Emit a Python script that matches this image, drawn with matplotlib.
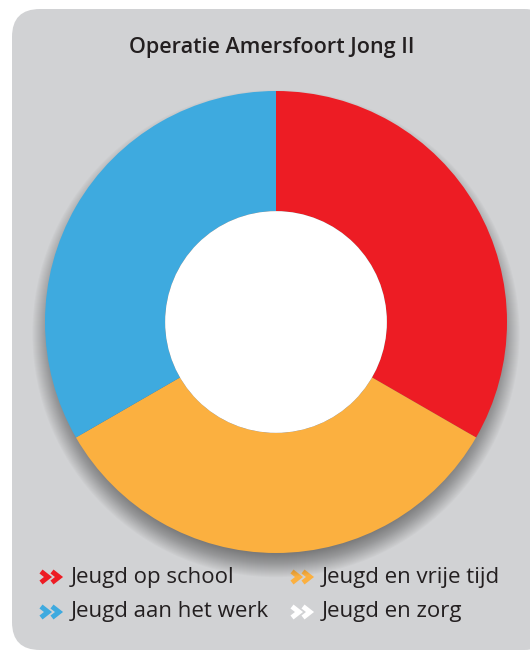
import matplotlib.pyplot as plt
from matplotlib.patches import FancyBboxPatch, Circle

title = "Operatie Amersfoort Jong II"
labels = ["Jeugd op school", "Jeugd en vrije tijd", "Jeugd aan het werk", "Jeugd en zorg"]
values = [1, 1, 1, 0]
colors = ["#ED1C24", "#FBB040", "#3EAADF", "#FFFFFF"]

W, H = 530, 653
fig = plt.figure(figsize=(W / 100, H / 100), dpi=100)
fig.patch.set_facecolor("white")

# background panel, in pixel units
bg = fig.add_axes([0, 0, 1, 1])
bg.set_xlim(0, W)
bg.set_ylim(H, 0)
bg.axis("off")
bg.add_patch(FancyBboxPatch((12, 9), 540, 641,
                            boxstyle="round,pad=0,rounding_size=28",
                            fc="#D1D2D4", ec="none"))

bg.text(272, 48, title, ha="center", va="center", fontsize=15.5,
        fontfamily="Open Sans", fontweight="semibold", color="#231F20")

# donut
cx, cy, r = 276, 322, 231
half = r * 1.12
ax = fig.add_axes([(cx - half) / W, (H - cy - half) / H, 2 * half / W, 2 * half / H])
ax.axis("off")

# soft drop shadow, shifted down
for i in range(30):
    ax.add_patch(Circle((0, -0.05), 0.93 + 0.0043 * i, fc="black", ec="none",
                        alpha=0.02, zorder=1))

shown = [v for v in values if v > 0]
ax.pie(shown, colors=colors[:len(shown)], startangle=90, counterclock=False,
       radius=1.0, wedgeprops=dict(width=0.52, edgecolor="none", zorder=2))
ax.add_patch(Circle((0, 0), 0.48, fc="white", ec="none", zorder=3))
ax.set_xlim(-1.12, 1.12)
ax.set_ylim(-1.12, 1.12)
ax.set_aspect("equal")

# legend with double chevrons
pos = [(41, 577), (292, 577), (41, 612), (292, 612)]
for (x, y), lab, col in zip(pos, labels, colors):
    for dx in (0, 11):
        bg.plot([x + dx, x + dx + 7, x + dx], [y - 5.5, y, y + 5.5], color=col,
                lw=3.6, solid_capstyle="butt", solid_joinstyle="miter")
    bg.text(x + 30, y, lab, ha="left", va="center", fontsize=16,
            fontfamily="Open Sans", color="#231F20")

fig.savefig("out.png", dpi=100)
